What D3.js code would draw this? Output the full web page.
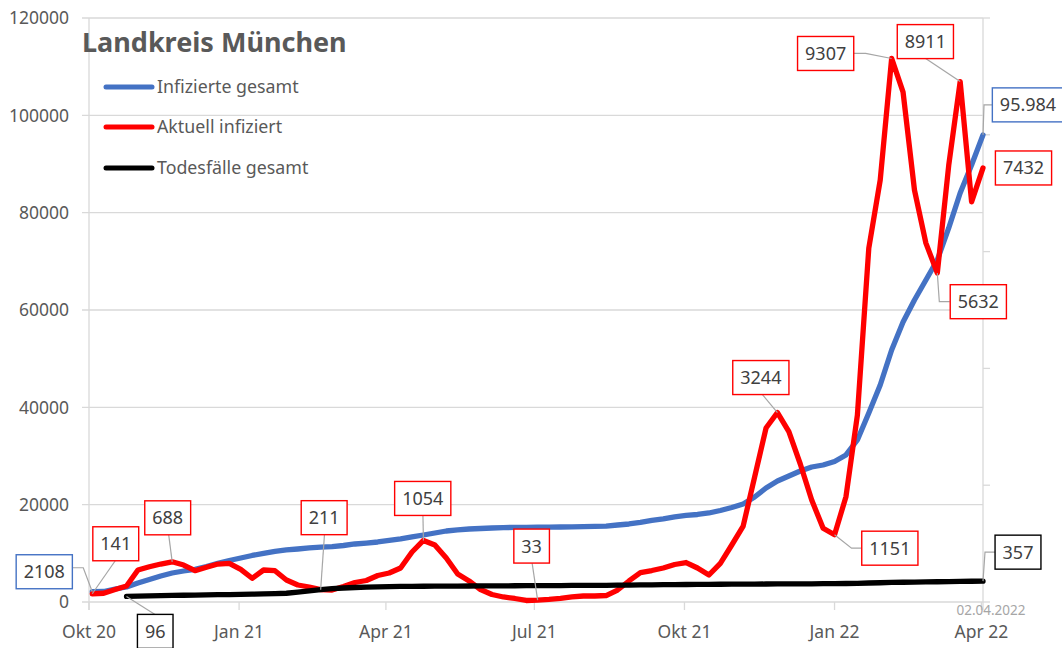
<!DOCTYPE html>
<html><head><meta charset="utf-8">
<script src="https://cdn.jsdelivr.net/npm/d3@7"></script>
<style>
html,body{margin:0;padding:0;background:#fff;}
svg{display:block;font-family:"Noto Sans",sans-serif;}
</style></head>
<body><svg id="c" width="1062" height="648"></svg>
<script>
// ---- data ----
const startDate = new Date(2020, 9, 3);
const nPoints = 79;
const dates = d3.range(nPoints).map(i => d3.timeDay.offset(startDate, 7 * i));
const infiziertGesamt = [2108,2160,2670,3080,3900,4620,5340,5960,6370,6720,7300,7950,8530,9040,9560,9970,10380,10690,10890,11100,11260,11360,11610,11920,12120,12330,12640,12950,13360,13770,14180,14590,14800,15000,15100,15210,15290,15330,15350,15370,15390,15410,15450,15500,15540,15580,15820,16030,16340,16750,17060,17470,17780,17980,18290,18800,19420,20140,21580,23430,24870,25890,26920,27740,28150,28870,30210,33290,38840,44590,51790,57540,62060,66170,70280,76860,84050,89800,95984];
const aktuellInfiziert = [141,150,214,274,548,604,650,688,633,536,594,650,662,560,406,548,536,377,291,257,211,205,265,334,368,454,496,582,856,1054,976,753,479,360,214,128,86,60,26,33,45,63,86,103,103,111,205,360,502,539,582,642,676,582,462,663,976,1301,2140,2979,3244,2916,2363,1746,1262,1151,1803,3200,6060,7225,9307,8731,7053,6146,5632,7480,8911,6853,7432];
const todesfaelle = [null,null,null,96,100,104,108,112,116,119,122,125,128,131,134,138,143,150,168,190,210,228,240,248,254,259,263,266,268,270,271,272,273,274,275,276,277,278,279,280,281,282,283,284,285,286,288,290,292,294,296,298,300,302,303,304,305,306,307,308,309,310,311,312,313,315,317,320,325,330,335,338,341,344,347,350,353,355,357];
const seriesNames = ["Infizierte gesamt", "Aktuell infiziert", "Todesfälle gesamt"];
const seriesColors = ["#4472C4", "#FF0000", "#000000"];
const yTicks = [0, 20000, 40000, 60000, 80000, 100000, 120000];
const y2Ticks = [0, 2000, 4000, 6000, 8000, 10000];
const xTickDates = [new Date(2020,9,1), new Date(2021,0,1), new Date(2021,3,1), new Date(2021,6,1), new Date(2021,9,1), new Date(2022,0,1), new Date(2022,3,1)];
const xTickLabels = ["Okt 20", "Jan 21", "Apr 21", "Jul 21", "Okt 21", "Jan 22", "Apr 22"];
const titleText = "Landkreis München";
const dateNote = "02.04.2022";
// annotations: series index, point index, text
const annSeries = [0,1,1,1,1,1,2,1,1,1,1,0,1,1,2];
const annIndex  = [0,0,7,20,29,39,3,60,65,70,76,78,78,74,78];
const annText   = ["2108","141","688","211","1054","33","96","3244","1151","9307","8911","95.984","7432","5632","357"];
// ---- layout (positions) ----
const annLayout = [
  {dx:-48,dy:-20, lead:[[0,0],[-9,-24],[-21,-24]]},
  {dx:23.5,dy:-50, lead:[[0,0],[23,-33]]},
  {dx:-4.5,dy:-44, lead:[[0,0],[-3.5,-27]]},
  {dx:3.5,dy:-72, lead:[[0,0],[3.8,-55]]},
  {dx:-0.7,dy:-42, lead:[[0,0],[-0.5,-25]]},
  {dx:-6,dy:-54, lead:[[0,0],[-5.5,-37]]},
  {dx:28.7,dy:35, lead:[[0,0],[28.5,18]]},
  {dx:-16.6,dy:-35, lead:[[0,0],[-15,-18]]},
  {dx:55.3,dy:13.4, lead:[[0,0],[17,13.4],[27,13.4]]},
  {dx:-66,dy:-5, lead:[[0,0],[-26,-5],[-37.7,-5]]},
  {dx:-34.8,dy:-40, lead:[[0,0],[-34.5,-23]]},
  {dx:45,dy:-30, lead:[[0,0],[1,-30],[10,-30]]},
  {dx:40.5,dy:0, lead:null},
  {dx:41,dy:28.6, lead:[[0,0],[2,28.6],[12.4,28.6]]},
  {dx:35,dy:-29, lead:[[0,0],[2,-29],[12,-29]]}
];

const svg = d3.select("#c");
const L = 89, R = 983, T = 18, B = 602;
const x = d3.scaleTime().domain([new Date(2020,9,1), new Date(2022,3,2)]).range([L, R]);
const y = d3.scaleLinear().domain([0, 120000]).range([B, T]);
const y2 = d3.scaleLinear().domain([0, 10000]).range([B, T]);
const grid = "#d9d9d9", txt = "#595959";

// gridlines
svg.append("g").selectAll("line").data(yTicks).join("line")
  .attr("x1", L - 7).attr("x2", R).attr("y1", d => y(d)).attr("y2", d => y(d))
  .attr("stroke", grid).attr("stroke-width", 1.3);
svg.append("line").attr("x1", L).attr("x2", L).attr("y1", T).attr("y2", B + 8).attr("stroke", grid).attr("stroke-width", 1.3);
svg.append("line").attr("x1", R).attr("x2", R).attr("y1", T).attr("y2", B + 8).attr("stroke", grid).attr("stroke-width", 1.3);
svg.append("g").selectAll("line").data(y2Ticks).join("line")
  .attr("x1", R).attr("x2", R + 7).attr("y1", d => y2(d)).attr("y2", d => y2(d))
  .attr("stroke", grid).attr("stroke-width", 1.3);
svg.append("g").selectAll("line").data(xTickDates).join("line")
  .attr("x1", d => x(d)).attr("x2", d => x(d)).attr("y1", B).attr("y2", B + 8)
  .attr("stroke", grid).attr("stroke-width", 1.3);

// y labels
svg.append("g").selectAll("text").data(yTicks).join("text")
  .attr("x", 69).attr("y", d => y(d)).attr("dy", "0.36em").attr("text-anchor", "end")
  .attr("fill", txt).attr("font-size", 17.5).text(d => d);
// x labels
svg.append("g").selectAll("text").data(xTickDates).join("text")
  .attr("x", d => x(d)).attr("y", 638).attr("text-anchor", "middle")
  .attr("fill", txt).attr("font-size", 17.5).text((d, i) => xTickLabels[i]);

// date note
svg.append("text").attr("x", 991).attr("y", 615).attr("text-anchor", "middle")
  .attr("fill", "#a6a6a6").attr("font-size", 13.5).text(dateNote);

// lines
const rows = dates.map((d, i) => ({d, a: infiziertGesamt[i], b: aktuellInfiziert[i], c: todesfaelle[i]}));
const yFns = [r => y(r.a), r => y2(r.b), r => y2(r.c)];
const defs = [r => r.a != null, r => r.b != null, r => r.c != null];
[0,1,2].forEach(k => {
  const line = d3.line().defined(defs[k]).x(r => x(r.d)).y(yFns[k]);
  svg.append("path").datum(rows).attr("d", line).attr("fill", "none")
    .attr("stroke", seriesColors[k]).attr("stroke-width", 5.3)
    .attr("stroke-linejoin", "round").attr("stroke-linecap", "round");
});

// title
svg.append("text").attr("x", 82).attr("y", 52).attr("fill", txt)
  .attr("font-size", 27).attr("font-weight", "bold").text(titleText);

// legend
const legY = [87, 127, 168];
seriesNames.forEach((n, k) => {
  svg.append("line").attr("x1", 106).attr("x2", 152).attr("y1", legY[k]).attr("y2", legY[k])
    .attr("stroke", seriesColors[k]).attr("stroke-width", 5).attr("stroke-linecap", "round");
  svg.append("text").attr("x", 157).attr("y", legY[k]).attr("dy", "0.35em")
    .attr("fill", txt).attr("font-size", 17.8).text(n);
});

// annotations
const yScales = [y, y2, y2];
const vals = [infiziertGesamt, aktuellInfiziert, todesfaelle];
annText.forEach((t, j) => {
  const s = annSeries[j], idx = annIndex[j], lay = annLayout[j];
  const px = x(dates[idx]), py = yScales[s](vals[s][idx]);
  if (lay.lead) {
    svg.append("polyline").attr("points", lay.lead.map(p => [px + p[0], py + p[1]].join(",")).join(" "))
      .attr("fill", "none").attr("stroke", "#a6a6a6").attr("stroke-width", 1.2);
  }
  const g = svg.append("g");
  const cx = px + lay.dx, cy = py + lay.dy;
  const tx = g.append("text").attr("x", cx).attr("y", cy).attr("dy", "0.36em").attr("text-anchor", "middle")
    .attr("fill", "#404040").attr("font-size", 18).text(t);
  const w = tx.node().getComputedTextLength() + 15, h = 34;
  g.insert("rect", "text").attr("x", cx - w / 2).attr("y", cy - h / 2).attr("width", w).attr("height", h)
    .attr("fill", "#fff").attr("stroke", seriesColors[s]).attr("stroke-width", 1.4);
});
</script></body></html>
